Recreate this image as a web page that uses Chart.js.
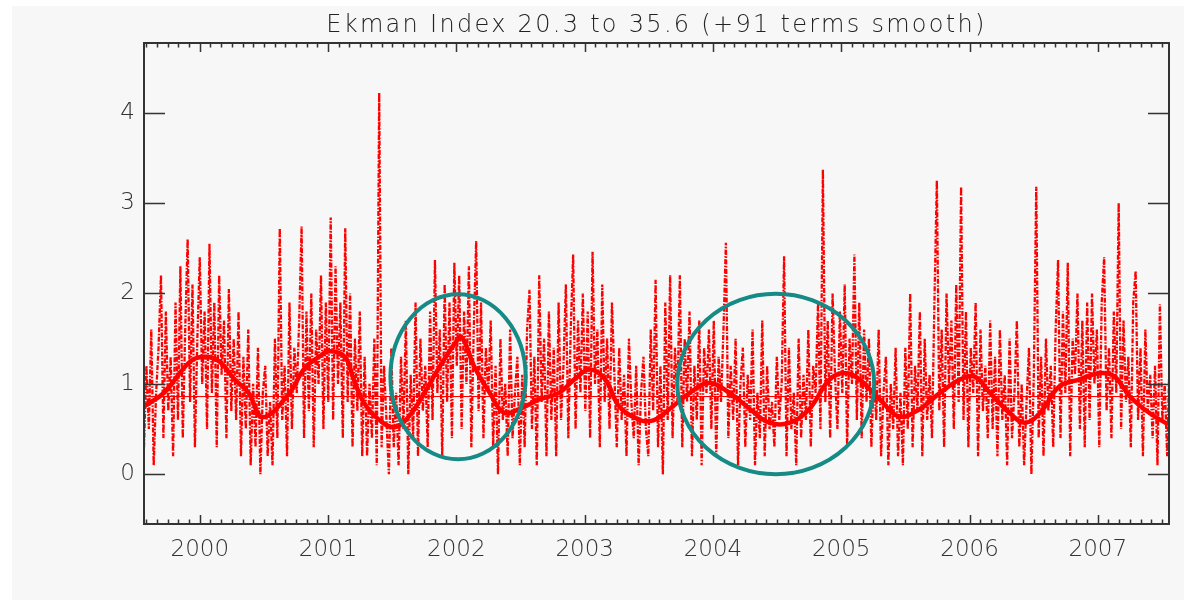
<!DOCTYPE html>
<html>
<head>
<meta charset="utf-8">
<script src="https://cdn.jsdelivr.net/npm/chart.js@4.4.1/dist/chart.umd.min.js"></script>
<style>
html, body { margin: 0; padding: 0; background: #fff; }
</style>
</head>
<body>
<canvas id="ekmanChart" width="1184" height="600"></canvas>
<script>
const TITLE = 'Ekman Index 20.3 to 35.6 (+91 terms smooth)';
const X_MIN = 1999.565;
const X_MAX = 2007.555;
const Y_MIN = -0.55;
const Y_MAX = 4.77;
const yearTicks = [2000, 2001, 2002, 2003, 2004, 2005, 2006, 2007];
const valueTicks = [0, 1, 2, 3, 4];
const MEAN = 0.86;

/* Raw index, roughly weekly samples */
const RAW_START = 1999.565;
const RAW_STEP = 0.0189;
const rawValues = [
    0.3,1.2,0.5,1.6,0.1,0.9,1.4,2.2,0.4,1.8,0.7,1.3,0.2,
    1.9,0.6,2.3,0.4,1.6,2.6,0.8,2.1,0.3,1.5,2.4,1.0,1.8,
    0.5,2.55,0.9,1.9,0.3,2.2,1.1,1.7,0.4,2.05,0.7,1.5,0.6,
    1.8,0.2,1.3,0.5,1.6,0.1,1.0,0.3,1.4,0.0,0.9,1.2,0.2,
    0.8,0.1,1.5,0.4,2.72,0.6,1.2,0.2,1.9,0.5,1.4,0.9,1.7,
    2.74,0.4,1.8,0.7,2.0,0.3,1.6,1.0,2.2,0.5,1.9,0.8,2.84,
    0.6,2.3,1.0,1.9,0.4,2.72,0.8,2.0,0.3,1.5,0.7,1.8,0.2,
    1.3,0.2,1.0,0.4,1.5,0.1,4.22,0.3,1.2,0.6,0.0,1.4,0.3,
    0.9,0.1,1.3,0.5,1.7,0.0,1.1,0.4,1.9,0.2,1.5,0.7,1.2,
    0.3,1.8,0.6,2.37,0.9,1.6,0.2,2.1,0.8,1.9,0.4,2.34,1.2,
    2.2,0.5,1.8,1.0,2.3,0.3,1.6,2.58,0.7,1.9,0.4,1.4,0.9,
    1.7,0.3,1.2,0.0,1.5,0.6,1.0,0.2,1.6,0.4,0.9,1.3,0.1,
    1.1,0.3,1.6,2.04,0.5,1.3,0.1,2.2,0.8,1.5,0.2,1.8,0.6,
    1.4,0.2,1.9,0.6,1.2,2.1,0.4,1.6,2.43,0.5,1.7,0.9,2.0,
    0.7,1.8,0.4,2.46,1.0,1.6,0.3,2.1,0.8,1.5,0.5,1.9,1.1,
    0.3,1.4,0.6,1.1,0.2,1.5,0.8,0.4,1.2,0.1,0.9,1.3,0.5,
    0.2,1.6,0.7,2.15,0.3,1.2,0.0,1.9,0.6,2.2,0.4,1.4,0.8,
    2.2,0.3,1.5,0.8,1.8,0.2,1.2,0.6,1.7,0.1,1.4,0.9,1.6,
    0.5,1.7,0.2,1.3,0.8,1.6,2.56,0.4,1.2,0.6,1.5,0.1,1.0,
    1.4,0.3,1.1,0.6,1.6,0.1,0.9,0.4,1.7,0.2,1.2,0.5,0.8,
    0.3,1.3,0.6,1.0,2.41,0.2,1.4,0.5,0.9,0.1,1.5,0.4,1.1,
    0.6,1.6,0.3,1.2,0.9,1.9,0.5,3.37,0.8,1.7,0.4,2.0,1.1,
    0.5,1.8,0.9,2.1,0.3,1.5,1.0,2.43,0.6,1.9,0.4,1.6,0.8,
    1.5,0.3,1.1,0.6,1.6,0.2,0.9,1.3,0.1,1.0,0.5,1.4,0.2,
    0.9,0.1,1.4,0.5,2.0,0.3,1.2,0.7,1.8,0.2,1.5,0.6,1.1,
    0.4,1.9,3.25,0.7,1.6,0.3,2.0,1.0,1.7,0.5,2.1,0.8,3.18,
    0.6,1.8,0.3,1.4,0.9,1.9,0.2,1.6,0.7,1.2,0.4,1.7,0.5,
    1.3,0.2,1.6,0.6,1.1,0.1,1.5,0.4,0.9,1.7,0.3,1.0,0.1,
    0.8,1.4,0.0,1.1,3.18,0.4,1.3,0.2,1.5,0.7,1.2,0.3,1.6,
    2.37,0.4,1.8,0.9,2.34,0.2,1.5,1.1,2.0,0.5,1.7,0.3,1.9,
    0.6,2.0,1.0,1.6,0.3,1.9,2.4,0.7,1.4,0.4,1.8,0.9,3.0,
    0.5,1.7,0.8,1.3,0.3,1.9,2.25,0.6,1.4,0.2,1.6,0.7,1.1,
    0.4,1.2,0.1,1.88,0.6,1.0,0.2,1.3
];

/* 91 term running mean */
const smoothYears = [
    1999.565,1999.72,1999.92,2000.03,2000.15,2000.27,2000.38,2000.49,2000.70,2000.81,
    2000.93,2001.01,2001.13,2001.20,2001.28,2001.40,2001.52,2001.63,2001.75,2001.87,
    2001.99,2002.04,2002.14,2002.26,2002.37,2002.49,2002.65,2002.80,2002.92,2003.04,
    2003.16,2003.27,2003.43,2003.54,2003.66,2003.82,2003.97,2004.13,2004.29,2004.44,
    2004.60,2004.75,2004.91,2005.03,2005.14,2005.30,2005.45,2005.61,2005.77,2005.93,
    2006.04,2006.16,2006.31,2006.43,2006.55,2006.70,2006.86,2007.02,2007.13,2007.25,
    2007.40,2007.55
];
const smoothValues = [
    0.75,0.9,1.24,1.3,1.25,1.05,0.9,0.63,0.9,1.16,
    1.3,1.36,1.3,1.05,0.79,0.6,0.52,0.64,0.9,1.19,
    1.45,1.52,1.19,0.9,0.68,0.72,0.83,0.9,1.05,1.16,
    1.05,0.75,0.6,0.6,0.72,0.9,1.01,0.9,0.72,0.57,
    0.57,0.72,1.05,1.12,1.05,0.83,0.64,0.72,0.9,1.05,
    1.08,0.9,0.68,0.57,0.68,0.97,1.05,1.12,1.08,0.86,
    0.68,0.55
];

/* Highlight ellipses: centre year, centre value, half width (years), half height */
const highlights = [
    [2002.013, 1.078, 0.527, 0.913],
    [2004.49, 0.998, 0.767, 0.998]
];

const rawPoints = rawValues.map((v, i) => ({ x: RAW_START + i * RAW_STEP, y: v }));
const smoothPoints = smoothYears.map((t, i) => ({ x: t, y: smoothValues[i] }));
const meanPoints = [{ x: X_MIN, y: MEAN }, { x: X_MAX, y: MEAN }];

const AXIS_COLOR = '#333333';
const FONT = 'DejaVu Sans';

/* Background, frame, inward ticks, title and the two ellipses */
const framePlugin = {
    id: 'framePlugin',
    beforeDraw(chart) {
        const ctx = chart.ctx;
        ctx.save();
        ctx.fillStyle = '#ffffff';
        ctx.fillRect(0, 0, chart.width, chart.height);
        ctx.fillStyle = '#f7f7f7';
        ctx.fillRect(12, 6, chart.width - 12, chart.height - 6);
        ctx.restore();
    },
    afterDraw(chart) {
        const ctx = chart.ctx;
        const a = chart.chartArea;
        const xs = chart.scales.x, ys = chart.scales.y;
        ctx.save();

        // ellipses
        ctx.strokeStyle = '#168a84';
        ctx.lineWidth = 4;
        highlights.forEach(h => {
            const cx = xs.getPixelForValue(h[0]);
            const cy = ys.getPixelForValue(h[1]);
            const rx = Math.abs(xs.getPixelForValue(h[0] + h[2]) - cx);
            const ry = Math.abs(ys.getPixelForValue(h[1] + h[3]) - cy);
            ctx.beginPath();
            ctx.ellipse(cx, cy, rx, ry, 0, 0, Math.PI * 2);
            ctx.stroke();
        });

        // frame
        ctx.strokeStyle = AXIS_COLOR;
        ctx.lineWidth = 2;
        ctx.strokeRect(a.left, a.top, a.right - a.left, a.bottom - a.top);

        // x ticks, monthly minor, yearly major
        ctx.beginPath();
        for (let y = Math.floor(X_MIN); y <= Math.ceil(X_MAX); y++) {
            for (let m = 0; m < 12; m++) {
                const t = y + m / 12;
                if (t <= X_MIN || t >= X_MAX) continue;
                const px = Math.round(xs.getPixelForValue(t)) + 0.5;
                const len = m === 0 ? 9 : 4.5;
                ctx.moveTo(px, a.bottom);
                ctx.lineTo(px, a.bottom - len);
                ctx.moveTo(px, a.top);
                ctx.lineTo(px, a.top + len);
            }
        }
        // y ticks both sides
        valueTicks.forEach(v => {
            const py = Math.round(ys.getPixelForValue(v)) + 0.5;
            ctx.moveTo(a.left, py);
            ctx.lineTo(a.left + 21, py);
            ctx.moveTo(a.right, py);
            ctx.lineTo(a.right - 21, py);
        });
        ctx.lineWidth = 1.5;
        ctx.stroke();

        // title
        ctx.fillStyle = '#222222';
        ctx.font = '300 24px "' + FONT + '"';
        ctx.letterSpacing = '2.3px';
        ctx.textAlign = 'center';
        ctx.textBaseline = 'alphabetic';
        ctx.fillText(TITLE, (a.left + a.right) / 2, 32);
        ctx.restore();
    }
};

const config = {
    type: 'line',
    data: {
        datasets: [
            {
                label: 'Smooth',
                data: smoothPoints,
                borderColor: '#ff0000',
                borderWidth: 4.5,
                tension: 0.4,
                pointRadius: 0,
                order: 0
            },
            {
                label: 'Ekman index',
                data: rawPoints,
                borderColor: '#ff0000',
                borderWidth: 2.3,
                borderDash: [5, 1.5, 1.5, 1.5],
                pointRadius: 0,
                order: 1
            },
            {
                label: 'Mean',
                data: meanPoints,
                borderColor: '#ff0000',
                borderWidth: 1,
                pointRadius: 0,
                order: 2
            }
        ]
    },
    options: {
        responsive: false,
        animation: false,
        devicePixelRatio: 1,
        events: [],
        layout: { padding: { left: 0, top: 43, right: 15, bottom: 0 } },
        plugins: {
            legend: { display: false },
            title: { display: false },
            tooltip: { enabled: false }
        },
        scales: {
            x: {
                type: 'linear',
                min: X_MIN,
                max: X_MAX,
                grid: { display: false, drawTicks: false },
                border: { display: false },
                afterBuildTicks: s => { s.ticks = yearTicks.map(v => ({ value: v })); },
                afterFit: s => { s.height = 76; },
                ticks: {
                    padding: 12,
                    maxRotation: 0,
                    color: AXIS_COLOR,
                    font: { family: FONT, size: 23, weight: 300 },
                    callback: v => String(v)
                }
            },
            y: {
                min: Y_MIN,
                max: Y_MAX,
                grid: { display: false, drawTicks: false },
                border: { display: false },
                afterBuildTicks: s => { s.ticks = valueTicks.map(v => ({ value: v })); },
                afterFit: s => { s.width = 144; },
                ticks: {
                    padding: 9,
                    color: AXIS_COLOR,
                    font: { family: FONT, size: 23, weight: 300 },
                    callback: v => String(v)
                }
            }
        }
    },
    plugins: [framePlugin]
};

const ekmanChart = new Chart(document.getElementById('ekmanChart'), config);
</script>
</body>
</html>
